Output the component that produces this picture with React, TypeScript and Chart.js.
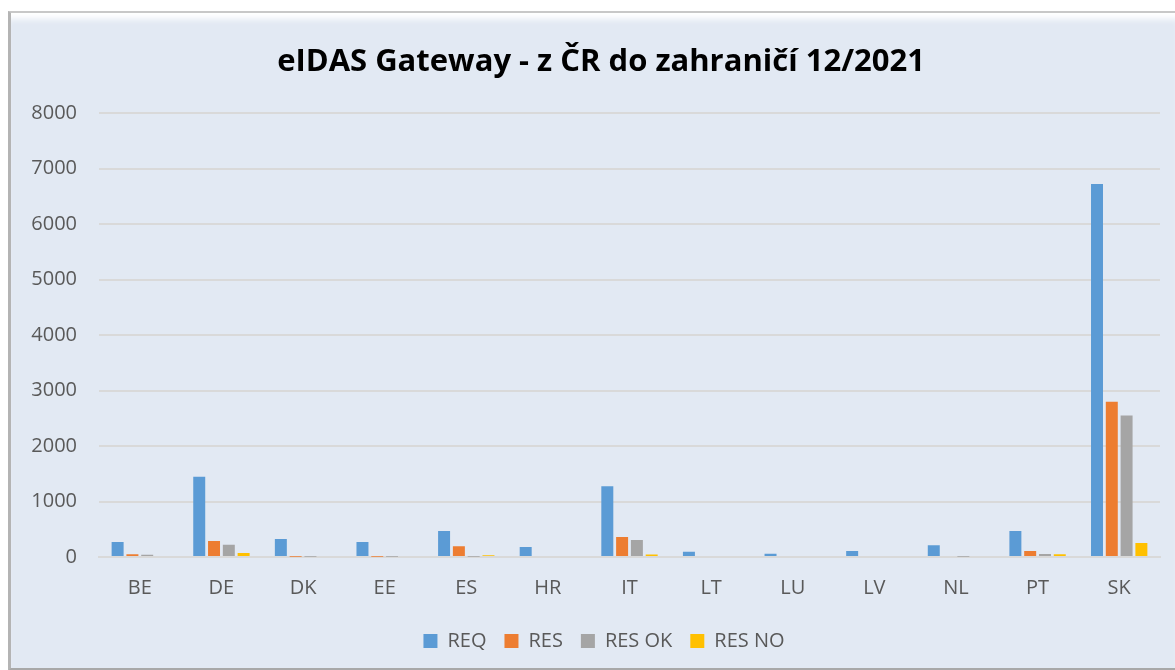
import React, { useEffect, useRef } from "react";
import { Chart, registerables } from "chart.js";

Chart.register(...registerables);

const categories = ["BE", "DE", "DK", "EE", "ES", "HR", "IT", "LT", "LU", "LV", "NL", "PT", "SK"];
const reqValues = [271, 1445, 325, 271, 470, 180, 1277, 96, 60, 108, 214, 470, 6723];
const resValues = [50, 289, 3, 3, 193, 0, 361, 0, 0, 0, 0, 108, 2800];
const resOkValues = [40, 222, 3, 3, 5, 0, 307, 0, 0, 0, 3, 54, 2552];
const resNoValues = [0, 72, 0, 0, 30, 0, 45, 0, 0, 0, 0, 50, 253];
const yTicks = [0, 1000, 2000, 3000, 4000, 5000, 6000, 7000, 8000];
const titleText = "eIDAS Gateway - z ČR do zahraničí 12/2021";

const FONT = "'Open Sans', Lato, sans-serif";

const shiftPlugin = {
  id: "shiftBlocks",
  afterLayout(chart: any) {
    const t = chart.titleBlock;
    if (t) {
      t.left += 21;
      t.right += 21;
    }
    const l = chart.legend;
    if (l) {
      l.left += 24;
      l.right += 24;
      l.top -= 6;
      l.bottom -= 6;
    }
  },
};

export default function App() {
  const ref = useRef<HTMLCanvasElement | null>(null);
  useEffect(() => {
    if (!ref.current) return;
    const mk = (label: string, data: number[], color: string) => ({
      label,
      data,
      backgroundColor: color,
      borderWidth: 0,
      categoryPercentage: 0.725,
      barPercentage: 0.81,
    });
    const chart = new Chart(ref.current, {
      type: "bar",
      data: {
        labels: categories,
        datasets: [
          mk("REQ", reqValues, "#5B9BD5"),
          mk("RES", resValues, "#ED7D31"),
          mk("RES OK", resOkValues, "#A5A5A5"),
          mk("RES NO", resNoValues, "#FFC000"),
        ],
      },
      plugins: [shiftPlugin],
      options: {
        animation: false,
        responsive: false,
        maintainAspectRatio: false,
        layout: { padding: { top: 20, right: 15, bottom: 3, left: 0 } },
        plugins: {
          title: {
            display: true,
            text: titleText,
            color: "#000000",
            font: { family: FONT, size: 31, weight: "bold" },
            padding: { top: 24, bottom: 32 },
          },
          legend: {
            position: "bottom",
            labels: {
              color: "#595959",
              font: { family: FONT, size: 20 },
              boxWidth: 14,
              boxHeight: 14,
              padding: 18,
            },
          },
          tooltip: { enabled: false },
        },
        scales: {
          x: {
            grid: { display: false, drawTicks: false },
            border: { display: true, color: "#D9D9D9", width: 2 },
            ticks: { color: "#595959", font: { family: FONT, size: 20 }, padding: 19 },
          },
          y: {
            min: 0,
            max: 8000,
            afterFit: (scale: any) => {
              scale.width = 99;
            },
            afterBuildTicks: (scale: any) => {
              scale.ticks = yTicks.map((v) => ({ value: v }));
            },
            grid: { color: "#D9D9D9", lineWidth: 2, drawTicks: false },
            border: { display: false },
            ticks: {
              color: "#595959",
              font: { family: FONT, size: 20 },
              padding: 22,
              callback: (v: any) => String(v),
            },
          },
        },
      },
    });
    return () => chart.destroy();
  }, []);

  return (
    <div style={{ position: "fixed", left: 0, top: 0, width: 1175, height: 670, background: "#ffffff", overflow: "hidden" }}>
      <div
        style={{
          position: "absolute",
          left: 8,
          top: 11,
          width: 1164,
          height: 655,
          background: "#E2E9F3",
          borderLeft: "3px solid #B4B4B4",
          borderTop: "2px solid #C8C8C8",
          borderRight: "2px solid #D0D0D0",
          borderBottom: "3px solid #A8A8A8",
          boxShadow: "inset 0 10px 6px -4px #ffffff",
        }}
      />
      <canvas ref={ref} width={1175} height={670} style={{ position: "absolute", left: 0, top: 0 }} />
    </div>
  );
}
